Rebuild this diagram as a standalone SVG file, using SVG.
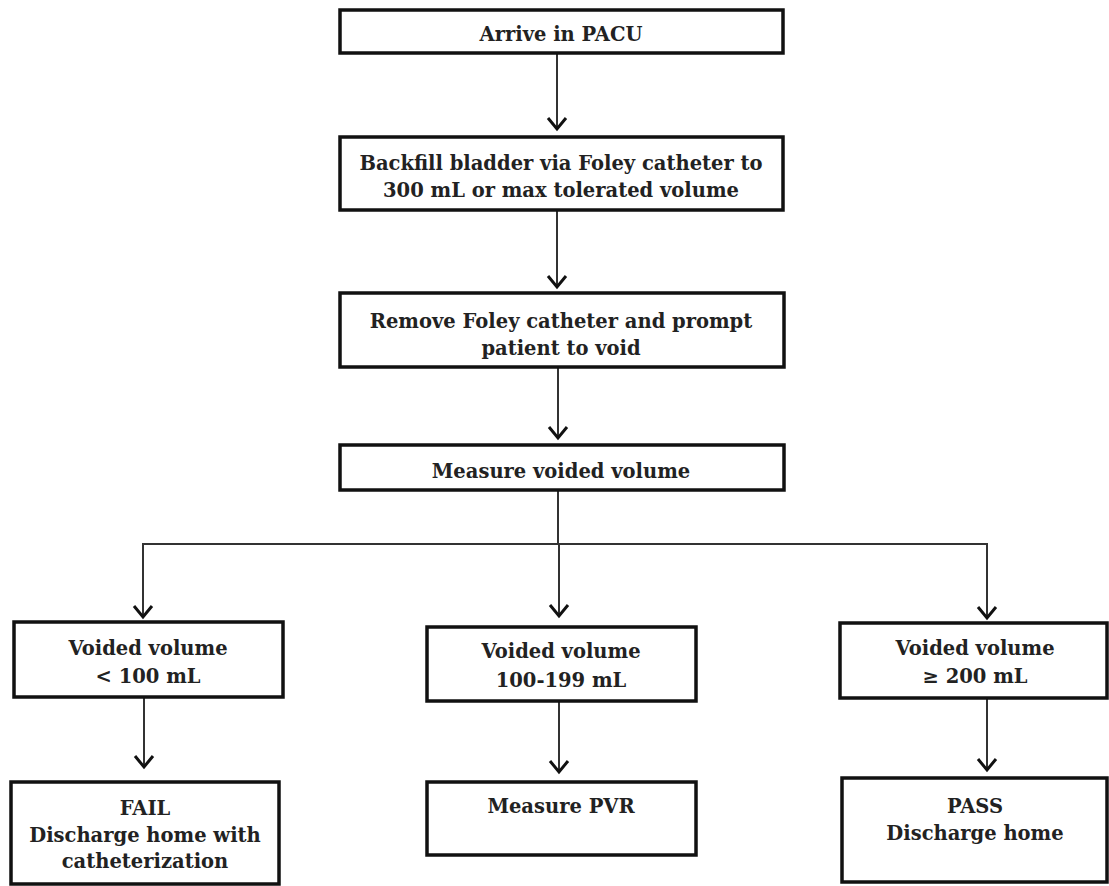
<svg xmlns="http://www.w3.org/2000/svg" width="1109" height="886" viewBox="0 0 1109 886">
<style>
.box{fill:#fff;stroke:#111;stroke-width:3.5}
.t{font-family:"DejaVu Serif","Liberation Serif",serif;font-weight:bold;font-size:19.5px;fill:#222;text-anchor:middle}
.c{fill:none;stroke:#333;stroke-width:2}
</style>
<defs>
<marker id="ah" markerUnits="userSpaceOnUse" markerWidth="16" markerHeight="22" refX="13" refY="11" orient="auto" viewBox="0 0 16 22">
<path d="M2,2 L13,11 L2,20" fill="none" stroke="#111" stroke-width="3"/>
</marker>
</defs>
<rect width="1109" height="886" fill="#fff"/>
<g id="connectors">
<line class="c" x1="557" y1="53" x2="557" y2="129" marker-end="url(#ah)"/>
<line class="c" x1="557" y1="210" x2="557" y2="287" marker-end="url(#ah)"/>
<line class="c" x1="558" y1="367" x2="558" y2="438" marker-end="url(#ah)"/>
<polyline class="c" points="558,490 558,544"/>
<polyline class="c" points="558,544 143,544 143,617" marker-end="url(#ah)"/>
<polyline class="c" points="558,544 987,544 987,618" marker-end="url(#ah)"/>
<line class="c" x1="559" y1="544" x2="559" y2="616" marker-end="url(#ah)"/>
<line class="c" x1="144" y1="697" x2="144" y2="767" marker-end="url(#ah)"/>
<line class="c" x1="559" y1="701" x2="559" y2="772" marker-end="url(#ah)"/>
<line class="c" x1="987" y1="698" x2="987" y2="770" marker-end="url(#ah)"/>
</g>
<g id="n1"><rect class="box" x="340" y="10" width="443" height="43"/><text class="t" x="561" y="41">Arrive in PACU</text></g>
<g id="n2"><rect class="box" x="340" y="137" width="443" height="73"/><text class="t" x="561" y="170">Backfill bladder via Foley catheter to</text><text class="t" x="561" y="197">300 mL or max tolerated volume</text></g>
<g id="n3"><rect class="box" x="340" y="293" width="444" height="74"/><text class="t" x="561" y="328">Remove Foley catheter and prompt</text><text class="t" x="561" y="355">patient to void</text></g>
<g id="n4"><rect class="box" x="340" y="445" width="444" height="45"/><text class="t" x="561" y="478">Measure voided volume</text></g>
<g id="n5"><rect class="box" x="14" y="622" width="269" height="75"/><text class="t" x="148" y="655">Voided volume</text><text class="t" x="148" y="683">&lt; 100 mL</text></g>
<g id="n6"><rect class="box" x="427" y="627" width="269" height="74"/><text class="t" x="561" y="658">Voided volume</text><text class="t" x="561" y="687">100-199 mL</text></g>
<g id="n7"><rect class="box" x="840" y="623" width="267" height="75"/><text class="t" x="975" y="655">Voided volume</text><text class="t" x="975" y="683">≥ 200 mL</text></g>
<g id="n8"><rect class="box" x="11" y="782" width="268" height="102"/><text class="t" x="145" y="815">FAIL</text><text class="t" x="145" y="842">Discharge home with</text><text class="t" x="145" y="868">catheterization</text></g>
<g id="n9"><rect class="box" x="427" y="782" width="269" height="73"/><text class="t" x="561" y="813">Measure PVR</text></g>
<g id="n10"><rect class="box" x="842" y="778" width="265" height="104"/><text class="t" x="975" y="813">PASS</text><text class="t" x="975" y="840">Discharge home</text></g>
</svg>
